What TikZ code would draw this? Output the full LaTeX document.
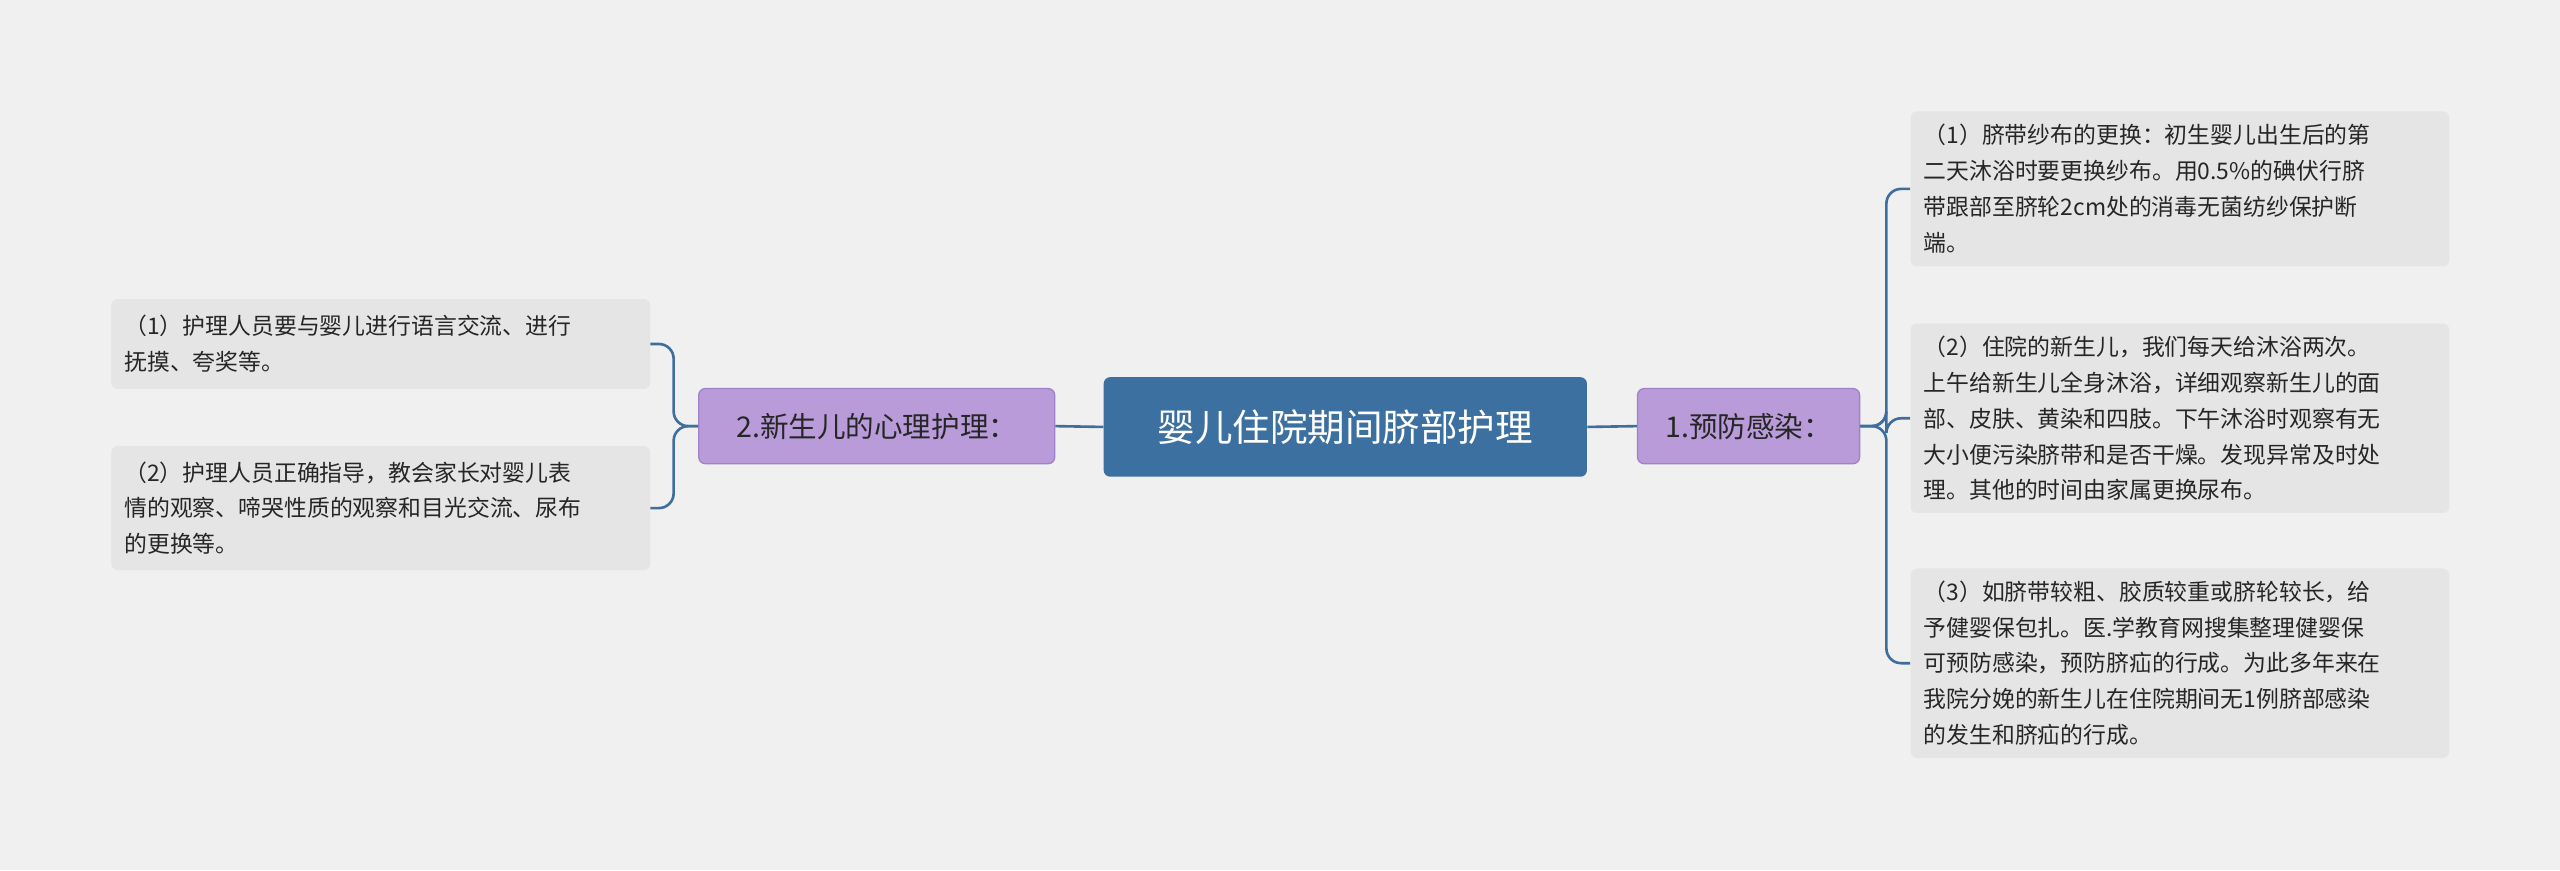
\documentclass[tikz,border=0pt]{standalone}
\usepackage{fontspec}
\setmainfont{Noto Sans CJK SC}
\begin{document}
\begin{tikzpicture}[x=1pt,y=-1pt,
 conn/.style={draw=linec,line width=1.6pt,rounded corners=9},
 leaf/.style={fill=leafc,rounded corners=4,text width=#1,align=left,inner xsep=8,inner ysep=6,font=\fontsize{14}{22}\selectfont,text=black!85,anchor=north west},
 branch/.style={fill=brc,draw=brd,line width=0.8pt,rounded corners=4,font=\fontsize{17.5}{20}\selectfont,text=black!85,minimum height=46,inner xsep=10}]
\definecolor{bg}{RGB}{240,240,240}
\definecolor{linec}{RGB}{62,110,158}
\definecolor{cen}{RGB}{60,112,160}
\definecolor{brc}{RGB}{184,155,216}
\definecolor{brd}{RGB}{160,130,200}
\definecolor{leafc}{RGB}{229,229,229}
\fill[bg] (0,0) rectangle (1568,533);
\useasboundingbox (0,0) rectangle (1568,533);
\node[fill=cen,rounded corners=4,minimum width=296,minimum height=61,text=white,font=\fontsize{23}{26}\selectfont] (c) at (824,261.5) {婴儿住院期间脐部护理};
\node[branch,minimum width=136] (b1) at (1071,261) {1.预防感染：};
\node[branch,minimum width=218] (b2) at (537,261) {2.新生儿的心理护理：};
\node[leaf=314,minimum height=95] (r1) at (1170,68) {（1）脐带纱布的更换：初生婴儿出生后的第\\二天沐浴时要更换纱布。用0.5\%的碘伏行脐\\带跟部至脐轮2cm处的消毒无菌纺纱保护断\\端。};
\node[leaf=314,minimum height=116] (r2) at (1170,198) {（2）住院的新生儿，我们每天给沐浴两次。\\上午给新生儿全身沐浴，详细观察新生儿的面\\部、皮肤、黄染和四肢。下午沐浴时观察有无\\大小便污染脐带和是否干燥。发现异常及时处\\理。其他的时间由家属更换尿布。};
\node[leaf=314,minimum height=116] (r3) at (1170,348) {（3）如脐带较粗、胶质较重或脐轮较长，给\\予健婴保包扎。医.学教育网搜集整理健婴保\\可预防感染，预防脐疝的行成。为此多年来在\\我院分娩的新生儿在住院期间无1例脐部感染\\的发生和脐疝的行成。};
\node[leaf=314,minimum height=55] (l1) at (68,183) {（1）护理人员要与婴儿进行语言交流、进行\\抚摸、夸奖等。};
\node[leaf=314,minimum height=76] (l2) at (68,273) {（2）护理人员正确指导，教会家长对婴儿表\\情的观察、啼哭性质的观察和目光交流、尿布\\的更换等。};
\draw[conn] (c.east) -- (b1.west);
\draw[conn] (c.west) -- (b2.east);
\foreach \r in {r1,r2,r3} \draw[conn] (b1.east) -- ++(16,0) |- (\r.west);
\foreach \l in {l1,l2} \draw[conn] (b2.west) -- ++(-15,0) |- (\l.east);
\end{tikzpicture}
\end{document}
